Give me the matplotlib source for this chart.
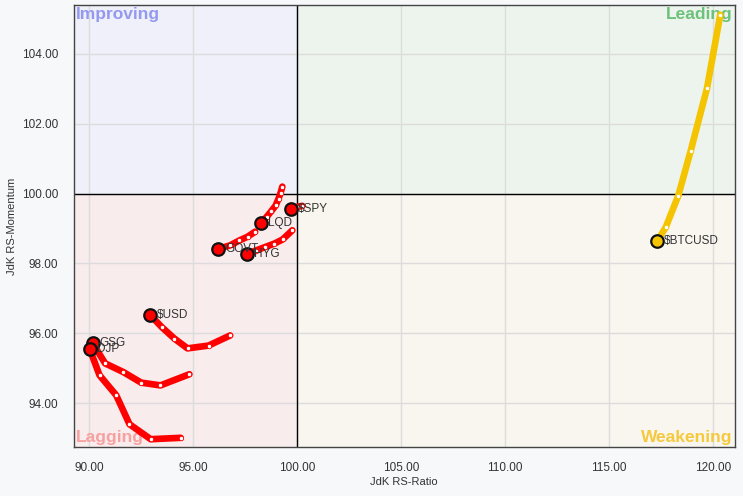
import numpy as np
import matplotlib
matplotlib.use("Agg")
import matplotlib.pyplot as plt

plt.rcParams["font.family"] = ["Liberation Sans", "DejaVu Sans"]

# RRG tails, oldest point first, head (latest) last
names = ["$SPY", "LQD", "GOVT", "HYG", "$USD", "GSG", "DJP", "$BTCUSD"]
ratio = {
    "$SPY": [100.25, 100.0, 99.71],
    "LQD": [99.29, 99.21, 99.11, 98.97, 98.75, 98.53, 98.27],
    "GOVT": [97.98, 97.63, 97.23, 96.78, 96.22],
    "HYG": [99.77, 99.31, 98.91, 98.46, 98.01, 97.58],
    "$USD": [96.78, 95.74, 94.73, 94.10, 93.49, 92.93],
    "GSG": [94.82, 93.43, 92.50, 91.65, 90.77, 90.18],
    "DJP": [94.40, 92.96, 91.94, 91.30, 90.50, 90.02],
    "$BTCUSD": [120.35, 119.71, 118.93, 118.33, 117.73, 117.31],
}
momentum = {
    "$SPY": [99.65, 99.62, 99.57],
    "LQD": [100.20, 100.03, 99.86, 99.66, 99.49, 99.33, 99.16],
    "GOVT": [98.91, 98.77, 98.66, 98.52, 98.42],
    "HYG": [98.95, 98.69, 98.57, 98.47, 98.37, 98.28],
    "$USD": [95.94, 95.65, 95.57, 95.85, 96.18, 96.53],
    "GSG": [94.83, 94.51, 94.59, 94.89, 95.14, 95.71],
    "DJP": [93.01, 92.97, 93.40, 94.23, 94.80, 95.56],
    "$BTCUSD": [105.12, 103.01, 101.23, 99.94, 99.04, 98.63],
}
colors = {n: "#ff0000" for n in names}
colors["$BTCUSD"] = "#f5c400"

xticks = [90, 95, 100, 105, 110, 115, 120]
yticks = [94, 96, 98, 100, 102, 104]
xlim = (89.25, 121.05)
ylim = (92.75, 105.4)

fig = plt.figure(figsize=(7.43, 4.96), dpi=100, facecolor="#f7f8fa")
ax = fig.add_axes([0.099, 0.099, 0.890, 0.891])
ax.set_xlim(xlim)
ax.set_ylim(ylim)

# quadrant backgrounds
ax.fill_between([xlim[0], 100], 100, ylim[1], color="#eff0f9", zorder=0, lw=0)
ax.fill_between([100, xlim[1]], 100, ylim[1], color="#edf4ed", zorder=0, lw=0)
ax.fill_between([xlim[0], 100], ylim[0], 100, color="#f9eced", zorder=0, lw=0)
ax.fill_between([100, xlim[1]], ylim[0], 100, color="#f9f6ef", zorder=0, lw=0)

ax.set_xticks(xticks)
ax.set_yticks(yticks)
ax.set_xticklabels(["%.2f" % v for v in xticks])
ax.set_yticklabels(["%.2f" % v for v in yticks])
ax.grid(True, color="#dcdcdc", lw=1, zorder=1)
ax.set_axisbelow(True)
ax.axvline(100, color="black", lw=1, zorder=2)
ax.axhline(100, color="black", lw=1, zorder=2)
ax.tick_params(length=0, labelsize=8.5, labelcolor="#333333", pad=11)
for s in ax.spines.values():
    s.set_color("#444444")
    s.set_linewidth(1)

ax.set_xlabel("JdK RS-Ratio", fontsize=8, color="#333333", labelpad=2)
ax.set_ylabel("JdK RS-Momentum", fontsize=8, color="#333333")
ax.yaxis.set_label_coords(-0.085, 0.5)

# quadrant names
kw = dict(fontsize=12.5, fontweight="bold", transform=ax.transAxes)
ax.text(0.004, 0.995, "Improving", color="#9499f0", ha="left", va="top", **kw)
ax.text(0.997, 0.995, "Leading", color="#6cc17b", ha="right", va="top", **kw)
ax.text(0.004, 0.005, "Lagging", color="#f7a0a0", ha="left", va="bottom", **kw)
ax.text(0.997, 0.005, "Weakening", color="#f5c93c", ha="right", va="bottom", **kw)

for n in names:
    x, y = ratio[n], momentum[n]
    c = colors[n]
    ax.plot(x, y, color=c, lw=4.8, solid_joinstyle="round", solid_capstyle="round", zorder=3)
    ax.plot(x[:-1], y[:-1], "o", ms=3.2, mfc="white", mec=c, mew=0.6, zorder=4)
    ax.plot(x[-1], y[-1], "o", ms=9, mfc=c, mec="#111111", mew=1.6, zorder=5)
    ax.annotate(n, (x[-1], y[-1]), xytext=(5, 0), textcoords="offset points",
                fontsize=8.5, color="#333333", va="center", ha="left", zorder=6)

fig.savefig("out.png", dpi=100, facecolor=fig.get_facecolor())
